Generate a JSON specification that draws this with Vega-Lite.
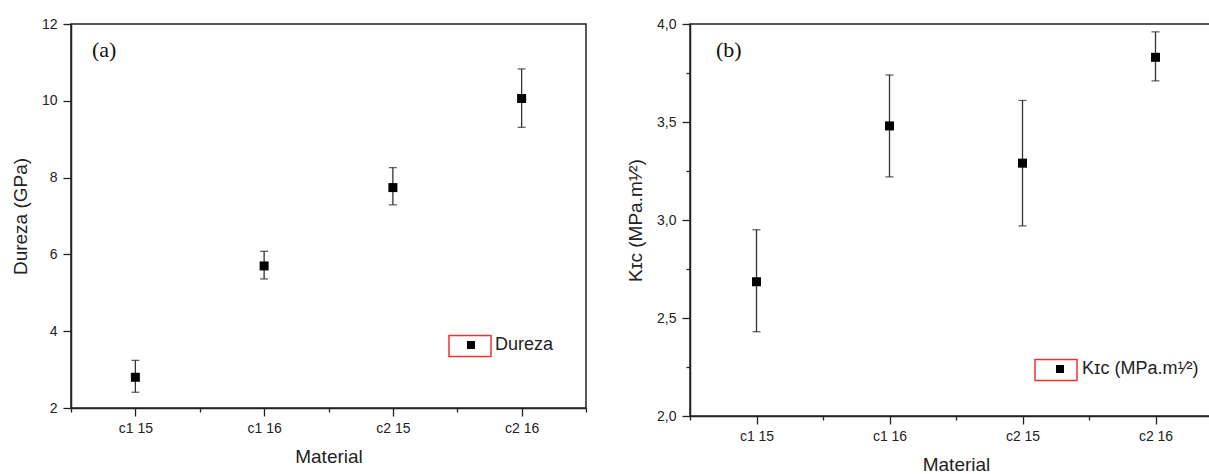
{
  "$schema": "https://vega.github.io/schema/vega-lite/v6.json",
  "padding": {"left": 10, "top": 16, "right": 0, "bottom": 0},
  "spacing": 37,
  "background": "white",
  "resolve": {
    "scale": {"fill": "independent", "opacity": "independent"},
    "legend": {"fill": "independent", "opacity": "independent"}
  },
  "config": {
    "view": {"stroke": "#222", "strokeWidth": 1.5},
    "axis": {
      "labelFont": "Liberation Sans", "labelFontSize": 14, "labelColor": "#222",
      "titleFont": "Liberation Sans", "titleFontSize": 19, "titleFontWeight": "normal", "titleColor": "#222",
      "domainColor": "#222", "domainWidth": 1.5, "tickColor": "#222", "tickWidth": 1.3, "grid": false,
      "labelPadding": 6
    },
    "legend": {"labelFont": "Liberation Sans", "labelFontSize": 18, "labelColor": "#222", "padding": 0, "offset": 0},
    "title": {"font": "Liberation Serif", "fontSize": 22, "fontWeight": "normal", "color": "#111", "anchor": "start", "frame": "group"}
  },
  "hconcat": [
    {
      "width": 515,
      "height": 384,
      "title": {"text": "(a)", "dx": 21, "dy": 49},
      "data": {"values": [
        {"Material": "c1 15", "pos": 1, "serie": "Dureza", "media": 2.80, "lo": 2.41, "hi": 3.24},
        {"Material": "c1 16", "pos": 2, "serie": "Dureza", "media": 5.70, "lo": 5.36, "hi": 6.08},
        {"Material": "c2 15", "pos": 3, "serie": "Dureza", "media": 7.74, "lo": 7.29, "hi": 8.26},
        {"Material": "c2 16", "pos": 4, "serie": "Dureza", "media": 10.06, "lo": 9.31, "hi": 10.83}
      ]},
      "encoding": {
        "x": {"field": "pos", "type": "quantitative", "title": "Material",
          "scale": {"domain": [0.5, 4.5], "nice": false, "zero": false},
          "axis": {"values": [0.5, 1, 1.5, 2, 2.5, 3, 3.5, 4, 4.5],
            "labelExpr": "datum.value % 1 === 0 ? ['c1 15','c1 16','c2 15','c2 16'][datum.value - 1] : ''",
            "tickSize": {"condition": {"test": "datum.value % 1 === 0", "value": 8}, "value": 4},
            "labelPadding": 5, "titlePadding": 12}}
      },
      "layer": [
        {"mark": {"type": "rule", "strokeWidth": 1.3, "color": "#333"},
         "encoding": {
           "y": {"field": "lo", "type": "quantitative", "title": "Dureza (GPa)",
             "scale": {"domain": [2, 12], "nice": false, "zero": false},
             "axis": {"values": [2, 3, 4, 5, 6, 7, 8, 9, 10, 11, 12],
               "labelExpr": "datum.value % 2 === 0 ? datum.label : ''",
               "tickSize": {"condition": {"test": "datum.value % 2 === 0", "value": 8}, "value": 4},
               "titlePadding": 11}},
           "y2": {"field": "hi"}}},
        {"mark": {"type": "tick", "orient": "horizontal", "size": 8, "thickness": 1.3, "color": "#222"},
         "encoding": {"y": {"field": "lo", "type": "quantitative"}}},
        {"mark": {"type": "tick", "orient": "horizontal", "size": 8, "thickness": 1.3, "color": "#222"},
         "encoding": {"y": {"field": "hi", "type": "quantitative"}}},
        {"mark": {"type": "point", "shape": "square", "filled": true, "size": 81, "color": "black", "opacity": 1},
         "encoding": {
           "y": {"field": "media", "type": "quantitative"},
           "fill": {"field": "serie", "type": "nominal", "scale": {"domain": ["Dureza"], "range": ["black"]},
             "legend": {"title": null, "orient": "none", "legendX": 391, "legendY": 312, "symbolType": "square", "symbolSize": 64, "symbolFillColor": "black", "symbolOpacity": 1, "symbolStrokeWidth": 0, "labelOffset": 15}},
           "opacity": {"field": "serie", "type": "nominal", "scale": {"range": [1, 1]},
             "legend": {"title": null, "orient": "none", "legendX": 377, "legendY": 300, "symbolType": "M-1,-0.5H1V0.5H-1Z", "symbolSize": 1764, "symbolFillColor": "transparent", "symbolStrokeColor": "#ee3333", "symbolStrokeWidth": 1.5, "labelExpr": "''"}}
         }}
      ]
    },
    {
      "width": 532,
      "height": 392,
      "title": {"text": "(b)", "dx": 26, "dy": 49},
      "data": {"values": [
        {"Material": "c1 15", "pos": 1, "serie": "Kɪᴄ (MPa.m¹⁄²)", "media": 2.685, "lo": 2.43, "hi": 2.95},
        {"Material": "c1 16", "pos": 2, "serie": "Kɪᴄ (MPa.m¹⁄²)", "media": 3.48, "lo": 3.22, "hi": 3.74},
        {"Material": "c2 15", "pos": 3, "serie": "Kɪᴄ (MPa.m¹⁄²)", "media": 3.29, "lo": 2.97, "hi": 3.61},
        {"Material": "c2 16", "pos": 4, "serie": "Kɪᴄ (MPa.m¹⁄²)", "media": 3.83, "lo": 3.71, "hi": 3.96}
      ]},
      "encoding": {
        "x": {"field": "pos", "type": "quantitative", "title": "Material",
          "scale": {"domain": [0.5, 4.5], "nice": false, "zero": false},
          "axis": {"values": [0.5, 1, 1.5, 2, 2.5, 3, 3.5, 4, 4.5],
            "labelExpr": "datum.value % 1 === 0 ? ['c1 15','c1 16','c2 15','c2 16'][datum.value - 1] : ''",
            "tickSize": {"condition": {"test": "datum.value % 1 === 0", "value": 8}, "value": 4},
            "labelPadding": 5, "titlePadding": 12}}
      },
      "layer": [
        {"mark": {"type": "rule", "strokeWidth": 1.3, "color": "#333"},
         "encoding": {
           "y": {"field": "lo", "type": "quantitative", "title": "Kɪᴄ (MPa.m¹⁄²)",
             "scale": {"domain": [2, 4], "nice": false, "zero": false},
             "axis": {"values": [2, 2.25, 2.5, 2.75, 3, 3.25, 3.5, 3.75, 4],
               "labelExpr": "(datum.value * 2) % 1 === 0 ? replace(format(datum.value, '.1f'), '.', ',') : ''",
               "tickSize": {"condition": {"test": "(datum.value * 2) % 1 === 0", "value": 8}, "value": 4},
               "titlePadding": 11}},
           "y2": {"field": "hi"}}},
        {"mark": {"type": "tick", "orient": "horizontal", "size": 8, "thickness": 1.3, "color": "#222"},
         "encoding": {"y": {"field": "lo", "type": "quantitative"}}},
        {"mark": {"type": "tick", "orient": "horizontal", "size": 8, "thickness": 1.3, "color": "#222"},
         "encoding": {"y": {"field": "hi", "type": "quantitative"}}},
        {"mark": {"type": "point", "shape": "square", "filled": true, "size": 81, "color": "black", "opacity": 1},
         "encoding": {
           "y": {"field": "media", "type": "quantitative"},
           "fill": {"field": "serie", "type": "nominal", "scale": {"domain": ["Kɪᴄ (MPa.m¹⁄²)"], "range": ["black"]},
             "legend": {"title": null, "orient": "none", "legendX": 361, "legendY": 336, "symbolType": "square", "symbolSize": 64, "symbolFillColor": "black", "symbolOpacity": 1, "symbolStrokeWidth": 0, "labelOffset": 13}},
           "opacity": {"field": "serie", "type": "nominal", "scale": {"range": [1, 1]},
             "legend": {"title": null, "orient": "none", "legendX": 344, "legendY": 324, "symbolType": "M-1,-0.5H1V0.5H-1Z", "symbolSize": 1764, "symbolFillColor": "transparent", "symbolStrokeColor": "#ee3333", "symbolStrokeWidth": 1.5, "labelExpr": "''"}}
         }}
      ]
    }
  ]
}
